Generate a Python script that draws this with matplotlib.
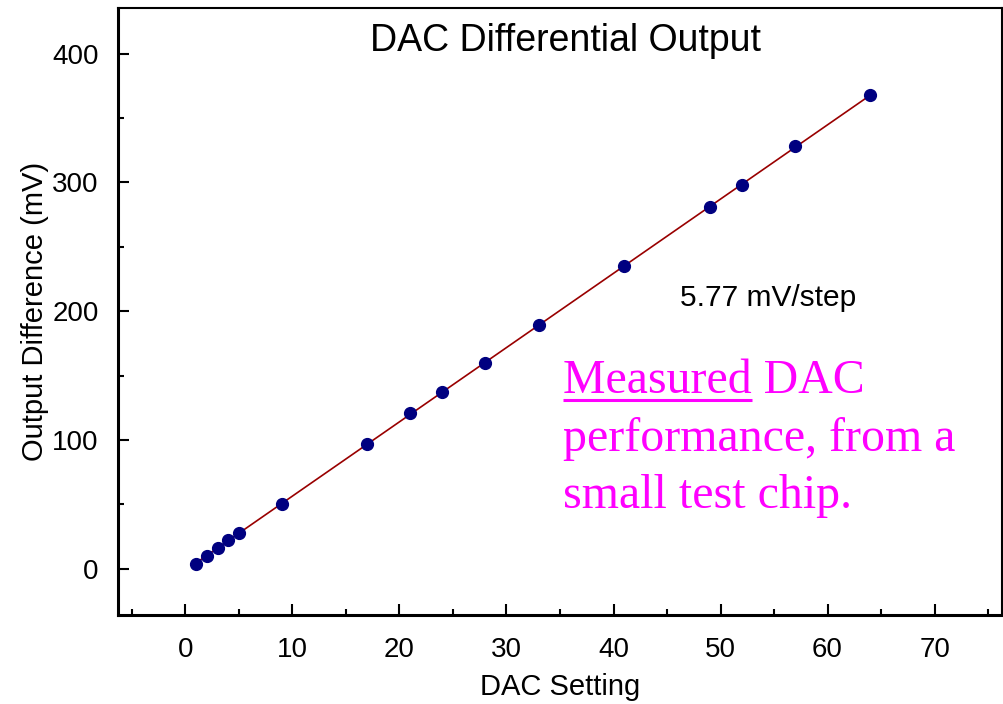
import numpy as np
import matplotlib.pyplot as plt
from matplotlib.ticker import MultipleLocator

# data
dac_setting = [1, 2, 3, 4, 5, 9, 17, 21, 24, 28, 33, 41, 49, 52, 57, 64]
output_diff = [4, 10, 16, 22, 28, 50, 97, 121, 137, 160, 189, 235, 281, 298, 328, 368]
note_lines = ["Measured DAC", "performance, from a", "small test chip."]

plt.rcParams['font.family'] = ['Liberation Sans', 'DejaVu Sans']

fig = plt.figure(figsize=(10.04, 7.04), dpi=100)
ax = fig.add_axes([118/1004, 89/704, 884/1004, 607/704])

# linear fit line through the points
slope, icpt = np.polyfit(dac_setting, output_diff, 1)
xf = np.array([dac_setting[0], dac_setting[-1]])
ax.plot(xf, slope*xf + icpt, color='#990000', lw=1.2, zorder=2)
ax.plot(dac_setting, output_diff, 'o', color='#000080', ms=8.5, zorder=3)

ax.set_xlim(-6.3, 76.3)
ax.set_ylim(-36, 435.5)
ax.xaxis.set_major_locator(MultipleLocator(10))
ax.xaxis.set_minor_locator(MultipleLocator(5))
ax.yaxis.set_major_locator(MultipleLocator(100))
ax.yaxis.set_minor_locator(MultipleLocator(50))
ax.tick_params(which='both', direction='in', labelsize=20, width=1.5)
ax.tick_params(which='major', length=8)
ax.tick_params(which='minor', length=4)
ax.tick_params(axis='x', pad=16)
ax.tick_params(axis='y', pad=14)
for s in ['left', 'bottom']:
    ax.spines[s].set_linewidth(2.2)
for s in ['top', 'right']:
    ax.spines[s].set_linewidth(1.5)

ax.set_xlabel('DAC Setting', fontsize=21, labelpad=7)
ax.set_ylabel('Output Difference (mV)', fontsize=21, labelpad=2.5)

ax.text(0.5057, 0.945, 'DAC Differential Output', transform=ax.transAxes,
        ha='center', va='center', fontsize=27)
ax.text(46.2, 210, '5.77 mV/step', ha='left', va='center', fontsize=21.5)

# magenta note in a serif face
x0 = (563 - 118) / 884
bases = [(615 - 393) / 607, (615 - 451) / 607, (615 - 508) / 607]
for line, yb in zip(note_lines, bases):
    ax.text(x0, yb, line, transform=ax.transAxes, ha='left', va='baseline',
            fontsize=34.5, color='#ff00ff', family=['Liberation Serif', 'DejaVu Serif'])

# underline the word "Measured"
fig.canvas.draw()
tmp = ax.text(x0, bases[0], 'Measured', transform=ax.transAxes, ha='left',
              va='baseline', fontsize=34.5, color='none',
              family=['Liberation Serif', 'DejaVu Serif'])
bb = tmp.get_window_extent(fig.canvas.get_renderer())
tmp.remove()
x1 = x0 + bb.width / ax.bbox.width
yu = bases[0] - 7 / ax.bbox.height
ax.plot([x0, x1], [yu, yu], transform=ax.transAxes, color='#ff00ff', lw=2.2,
        solid_capstyle='butt', clip_on=False)

fig.savefig('out.png', dpi=100)
